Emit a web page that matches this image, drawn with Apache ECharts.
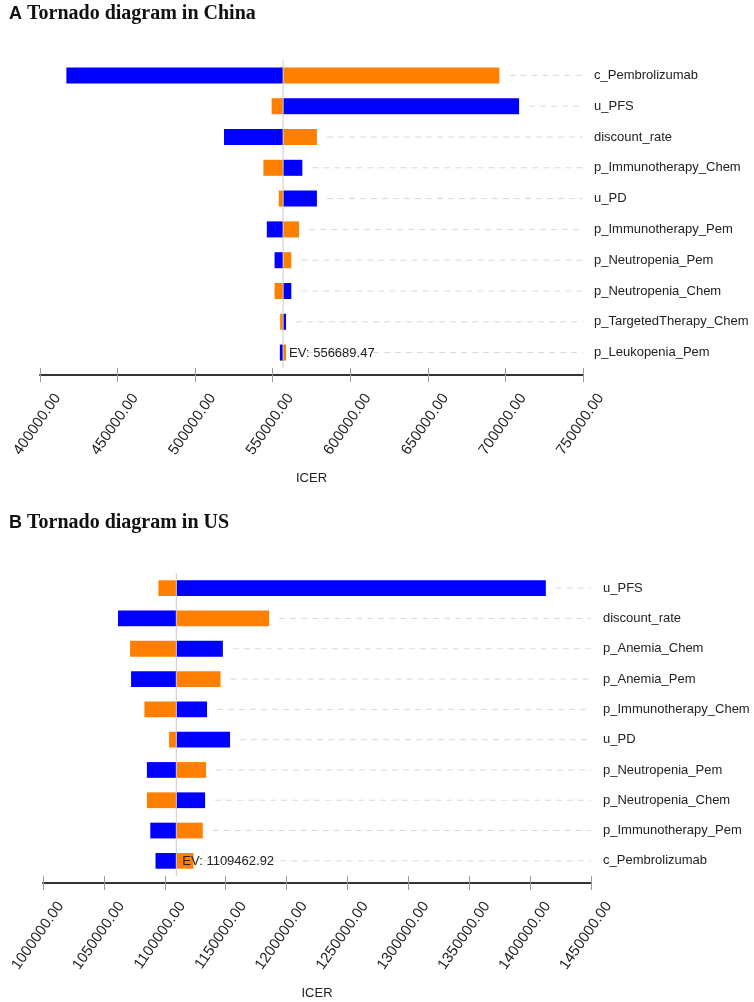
<!DOCTYPE html>
<html>
<head>
<meta charset="utf-8">
<script src="https://cdn.jsdelivr.net/npm/echarts@6/dist/echarts.min.js"></script>
<style>html,body{margin:0;padding:0;background:#fff}#c{width:754px;height:1002px}</style>
</head>
<body>
<div id="c"></div>
<script>
// ---- Data: China ----
const catsA = ['c_Pembrolizumab','u_PFS','discount_rate','p_Immunotherapy_Chem','u_PD','p_Immunotherapy_Pem','p_Neutropenia_Pem','p_Neutropenia_Chem','p_TargetedTherapy_Chem','p_Leukopenia_Pem'];
const blueA   = [417000, 708800, 518600, 569100, 578500, 546200, 551200, 562000, 558600, 554600];
const orangeA = [696100, 549300, 578500, 544000, 553900, 567000, 562000, 551200, 554800, 558600];
const evA = 556689.47;
const ticksA = {min: 400000, max: 750000, interval: 50000};

// ---- Data: US ----
const catsB = ['u_PFS','discount_rate','p_Anemia_Chem','p_Anemia_Pem','p_Immunotherapy_Chem','u_PD','p_Neutropenia_Pem','p_Neutropenia_Chem','p_Immunotherapy_Pem','c_Pembrolizumab'];
const blueB   = [1412900, 1061600, 1147700, 1072300, 1134700, 1153600, 1085300, 1133100, 1088100, 1092400];
const orangeB = [1094800, 1185700, 1071500, 1145800, 1083300, 1103500, 1133900, 1085300, 1131200, 1123600];
const evB = 1109462.92;
const ticksB = {min: 1000000, max: 1450000, interval: 50000};

const BLUE = '#0000ff', ORANGE = '#ff8000';
const SANS = "'Liberation Sans',Arial,sans-serif";

function barSeries(cats, blue, orange, ev, xi, yi) {
  return {
    type: 'custom', xAxisIndex: xi, yAxisIndex: yi, z: 2,
    encode: {x: [1, 2], y: 0},
    data: cats.map((c, i) => [i, blue[i], orange[i]]),
    renderItem(params, api) {
      const i = api.value(0);
      const pE = api.coord([ev, i]);
      const pB = api.coord([api.value(1), i]);
      const pO = api.coord([api.value(2), i]);
      const h = api.size([0, 1])[1] * 0.52;
      const cs = params.coordSys;
      const rect = (p, col) => ({
        type: 'rect',
        shape: {x: Math.min(pE[0], p[0]), y: pE[1] - h / 2, width: Math.abs(p[0] - pE[0]), height: h},
        style: {fill: col}
      });
      const end = Math.max(pB[0], pO[0]) + 10;
      return {type: 'group', children: [
        {type: 'line', shape: {x1: end, y1: pE[1], x2: cs.x + cs.width, y2: pE[1]},
         style: {stroke: '#d9d9d9', lineWidth: 1, lineDash: [6, 5]}},
        rect(pB, BLUE), rect(pO, ORANGE)
      ]};
    }
  };
}

function evSeries(cats, ev, xi, yi) {
  return {
    type: 'custom', xAxisIndex: xi, yAxisIndex: yi, z: 5,
    encode: {x: 0, y: 1},
    data: [[ev, cats.length - 1]],
    renderItem(params, api) {
      const p = api.coord([api.value(0), api.value(1)]);
      const cs = params.coordSys;
      return {type: 'group', children: [
        {type: 'line', shape: {x1: p[0], y1: cs.y, x2: p[0], y2: cs.y + cs.height},
         style: {stroke: '#c8c8c8', lineWidth: 1}},
        {type: 'text', x: p[0] + 6, y: p[1] + 1,
         style: {text: 'EV: ' + api.value(0).toFixed(2), fill: '#222', font: '13px ' + SANS,
                 textAlign: 'left', textVerticalAlign: 'middle'}}
      ]};
    }
  };
}

function xAxes(t, gi, nameGap) {
  const base = {type: 'value', gridIndex: gi, min: t.min, max: t.max, interval: t.interval,
                position: 'bottom', offset: 7, splitLine: {show: false}};
  return [
    Object.assign({}, base, {
      name: 'ICER', nameLocation: 'middle', nameGap: nameGap,
      nameTextStyle: {fontFamily: SANS, fontSize: 13, color: '#222'},
      axisLine: {show: true, lineStyle: {color: '#333', width: 2}},
      axisTick: {show: true, length: 7, lineStyle: {color: '#999'}},
      axisLabel: {rotate: 55, margin: 8, fontFamily: SANS, fontSize: 15, color: '#222',
                  verticalAlign: 'top', padding: [14, 0, 0, 0],
                  formatter: v => v.toFixed(2)}
    }),
    Object.assign({}, base, {
      axisLine: {show: false},
      axisTick: {show: true, inside: true, length: 7, lineStyle: {color: '#999'}},
      axisLabel: {show: false}
    })
  ];
}

function yAxis(cats, gi, margin) {
  return {type: 'category', gridIndex: gi, data: cats, inverse: true, position: 'right',
          axisLine: {show: false}, axisTick: {show: false}, splitLine: {show: false},
          axisLabel: {margin: margin, fontFamily: SANS, fontSize: 13, color: '#222', align: 'left'}};
}

const titleRich = {
  a: {fontFamily: SANS, fontWeight: 'bold', fontSize: 18, color: '#111'},
  b: {fontFamily: "'Liberation Serif','Times New Roman',serif", fontWeight: 'bold', fontSize: 20, color: '#111'}
};

const chart = echarts.init(document.getElementById('c'));
chart.setOption({
  animation: false,
  backgroundColor: '#fff',
  title: [
    {left: 4, top: -1, text: '{a|A} {b|Tornado diagram in China}', textStyle: {rich: titleRich}},
    {left: 4, top: 508, text: '{a|B} {b|Tornado diagram in US}', textStyle: {rich: titleRich}}
  ],
  grid: [
    {left: 40, right: 171, top: 60, height: 308, containLabel: false, outerBoundsMode: 'none'},
    {left: 43, right: 163, top: 573, height: 303, containLabel: false, outerBoundsMode: 'none'}
  ],
  xAxis: xAxes(ticksA, 0, 97).concat(xAxes(ticksB, 1, 104)),
  yAxis: [yAxis(catsA, 0, 11), yAxis(catsB, 1, 12)],
  series: [
    barSeries(catsA, blueA, orangeA, evA, 0, 0),
    evSeries(catsA, evA, 0, 0),
    barSeries(catsB, blueB, orangeB, evB, 2, 1),
    evSeries(catsB, evB, 2, 1)
  ]
});
</script>
</body>
</html>
